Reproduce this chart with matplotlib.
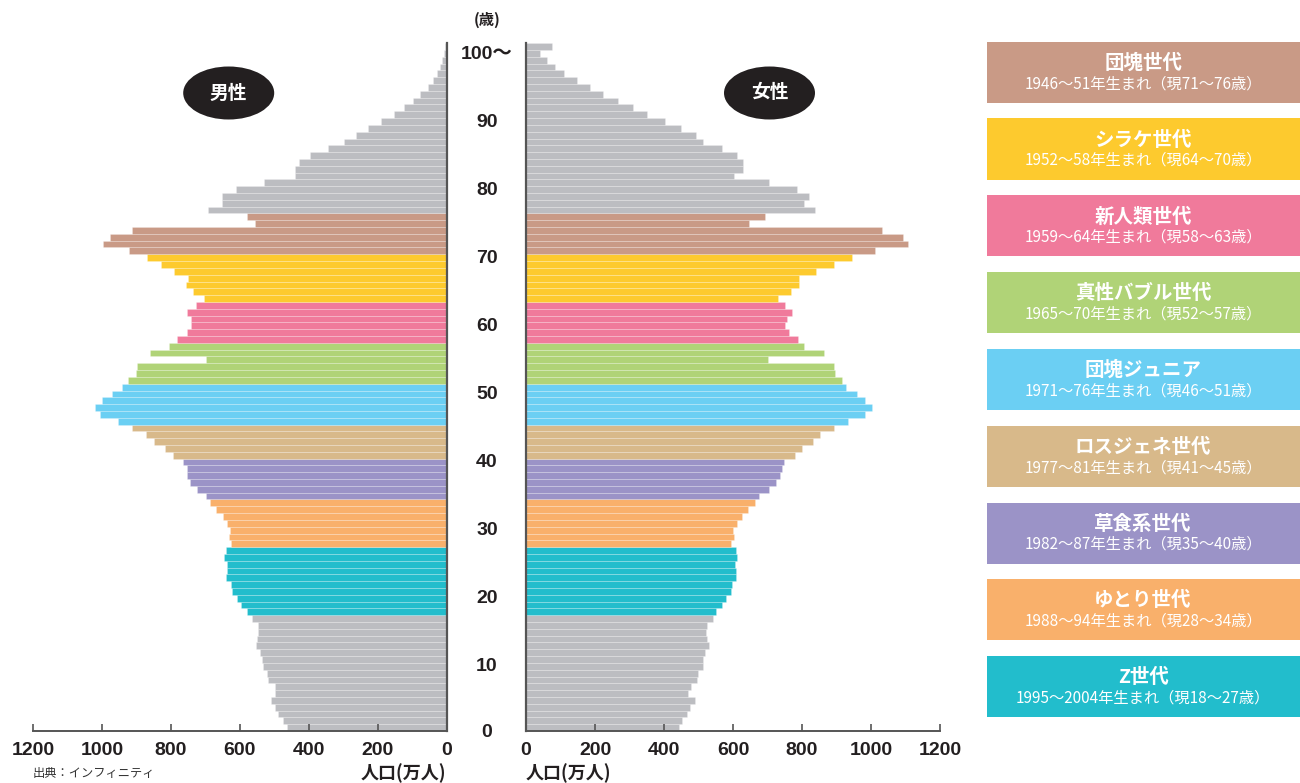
import matplotlib
matplotlib.use("Agg")
import matplotlib.pyplot as plt
from matplotlib.patches import Ellipse, Rectangle
from matplotlib import transforms
import numpy as np

# ---------------- data ----------------
ages = list(range(0, 101))  # bar index 0..100 (100 = 100歳以上)

male = [464, 475, 488, 497, 510, 497, 499, 517, 522, 534,
        536, 541, 554, 551, 548, 548, 565, 578, 597, 607,
        624, 627, 639, 638, 638, 645, 640, 627, 632, 628,
        636, 649, 669, 687, 698, 723, 744, 754, 754, 765,
        795, 818, 849, 872, 913, 952, 1007, 1019, 1001, 972,
        941, 925, 901, 898, 698, 862, 806, 783, 754, 741,
        742, 753, 727, 704, 736, 757, 751, 790, 829, 869,
        922, 998, 976, 913, 557, 580, 691, 652, 652, 610,
        531, 441, 441, 427, 396, 345, 297, 264, 227, 190,
        152, 124, 99, 77, 55, 39, 27, 19, 13, 8, 6]

female = [443, 453, 466, 475, 489, 471, 477, 497, 499, 512,
          514, 519, 529, 526, 523, 524, 543, 552, 569, 579,
          593, 598, 610, 610, 605, 613, 609, 595, 602, 599,
          611, 625, 643, 664, 674, 703, 726, 737, 741, 747,
          780, 799, 831, 852, 894, 933, 982, 1004, 982, 958,
          928, 915, 895, 892, 700, 863, 807, 787, 761, 751,
          756, 770, 751, 729, 767, 790, 790, 842, 892, 944,
          1011, 1106, 1094, 1032, 645, 693, 838, 805, 819, 785,
          704, 602, 630, 630, 613, 567, 514, 492, 448, 404,
          350, 309, 266, 223, 186, 148, 111, 85, 60, 41, 74]

gen_names = ["団塊世代", "シラケ世代", "新人類世代", "真性バブル世代", "団塊ジュニア",
             "ロスジェネ世代", "草食系世代", "ゆとり世代", "Z世代"]
gen_subs = ["1946～51年生まれ（現71～76歳）",
            "1952～58年生まれ（現64～70歳）",
            "1959～64年生まれ（現58～63歳）",
            "1965～70年生まれ（現52～57歳）",
            "1971～76年生まれ（現46～51歳）",
            "1977～81年生まれ（現41～45歳）",
            "1982～87年生まれ（現35～40歳）",
            "1988～94年生まれ（現28～34歳）",
            "1995～2004年生まれ（現18～27歳）"]
gen_ranges = [(70, 75), (63, 69), (57, 62), (51, 56), (45, 50),
              (40, 44), (34, 39), (27, 33), (17, 26)]
gen_colors = ["#c99a86", "#fdca2e", "#f07a9b", "#b0d377", "#6bcff3",
              "#d8b98a", "#9b93c7", "#f9b06b", "#22bdcc"]
base_color = "#bcbdc1"

x_ticks = [0, 200, 400, 600, 800, 1000, 1200]
y_tick_labels = ["0", "10", "20", "30", "40", "50", "60", "70", "80", "90", "100～"]

# ---------------- figure ----------------
W, H = 1300, 783
fig = plt.figure(figsize=(W / 100, H / 100), dpi=100)
fig.patch.set_facecolor("white")

def fx(px):
    return px / W

def fy(py):
    return 1 - py / H

JP = ["Noto Sans CJK JP", "DejaVu Sans"]
NUM = ["Liberation Sans", "Noto Sans CJK JP", "DejaVu Sans"]

bar_colors = []
for a in ages:
    c = base_color
    for (lo, hi), col in zip(gen_ranges, gen_colors):
        if lo <= a <= hi:
            c = col
    bar_colors.append(c)

ax_bottom = fy(731)
ax_height = (731 - 43.2) / H
axm = fig.add_axes([fx(33), ax_bottom, fx(446.7) - fx(33), ax_height])
axf = fig.add_axes([fx(526), ax_bottom, fx(940) - fx(526), ax_height])

ypos = np.array(ages) + 0.5
for ax, vals in ((axm, male), (axf, female)):
    ax.barh(ypos, vals, height=1.0, color=bar_colors,
            edgecolor=(1, 1, 1, 0.3), linewidth=0.45)

spine_col = "#555555"
for ax, lim in ((axm, (1200, 0)), (axf, (0, 1200))):
    ax.set_xlim(*lim)
    ax.set_ylim(0, 101)
    ax.set_facecolor("none")
    ax.set_yticks([])
    ax.set_xticks(x_ticks)
    ax.set_xticklabels([str(t) for t in x_ticks], family=NUM,
                       fontweight="bold", fontsize=14, color="#231f20")
    ax.tick_params(axis="x", direction="in", length=5, width=1.2,
                   color=spine_col, pad=8)
    ax.spines["top"].set_visible(False)
    ax.spines["bottom"].set_color(spine_col)
    ax.spines["bottom"].set_linewidth(1.4)

axm.spines["left"].set_visible(False)
axm.spines["right"].set_color(spine_col)
axm.spines["right"].set_linewidth(1.6)
axf.spines["right"].set_visible(False)
axf.spines["left"].set_color(spine_col)
axf.spines["left"].set_linewidth(1.6)

# age labels in the centre column
trans = transforms.blended_transform_factory(fig.transFigure, axm.transData)
for lab in y_tick_labels:
    k = int(lab.replace("～", ""))
    yk = max(k - 0.6, -0.25)
    axm.text(fx(487), yk, lab, transform=trans, ha="center", va="center",
             family=NUM, fontweight="bold", fontsize=14, color="#231f20",
             clip_on=False)
fig.text(fx(487), fy(20), "(歳)", ha="center", va="center", family=JP,
         fontweight="bold", fontsize=11, color="#231f20")

# ellipses
for cx, lab in ((228.7, "男性"), (769.5, "女性")):
    e = Ellipse((fx(cx), fy(93)), fx(91), 53 / H, transform=fig.transFigure,
                facecolor="#231f20", edgecolor="none")
    fig.add_artist(e)
    fig.text(fx(cx), fy(93), lab, ha="center", va="center", family=JP,
             fontweight="bold", fontsize=13.5, color="white")

# bottom labels
fig.text(fx(446), fy(773), "人口(万人)", ha="right", va="center", family=JP,
         fontweight="bold", fontsize=13, color="#231f20")
fig.text(fx(526), fy(773), "人口(万人)", ha="left", va="center", family=JP,
         fontweight="bold", fontsize=13, color="#231f20")
fig.text(fx(33), fy(773), "出典：インフィニティ", ha="left", va="center",
         family=JP, fontsize=8.8, color="#333333")

# legend boxes
box_x0, box_x1 = 986.7, 1299.5
for k, (name, sub, col) in enumerate(zip(gen_names, gen_subs, gen_colors)):
    top = 41.7 + k * 76.8
    r = Rectangle((fx(box_x0), fy(top + 61)), fx(box_x1) - fx(box_x0), 61 / H,
                  transform=fig.transFigure, facecolor=col, edgecolor="none")
    fig.add_artist(r)
    cx = (box_x0 + box_x1) / 2
    fig.text(fx(cx), fy(top + 21.5), name, ha="center", va="center",
             family=JP, fontweight="bold", fontsize=14, color="white")
    fig.text(fx(cx), fy(top + 42), sub, ha="center", va="center",
             family=JP, fontsize=11, color="white")

fig.savefig("out.png", dpi=100, facecolor="white")
